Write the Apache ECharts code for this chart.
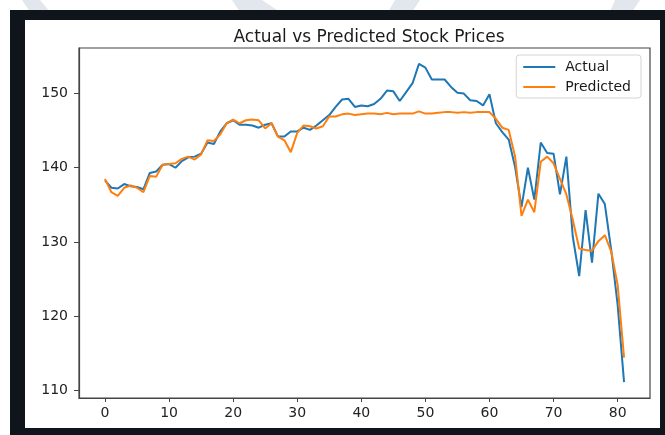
<!DOCTYPE html>
<html>
<head>
<meta charset="utf-8">
<script src="https://cdn.jsdelivr.net/npm/echarts@6/dist/echarts.min.js"></script>
<style>
html,body{margin:0;padding:0;background:#ffffff;}
#chart{width:665px;height:435px;}
</style>
</head>
<body>
<div id="chart"></div>
<script>
const titleText = 'Actual vs Predicted Stock Prices';
const seriesNames = ['Actual', 'Predicted'];
const xTicks = [0, 10, 20, 30, 40, 50, 60, 70, 80];
const yTicks = [110, 120, 130, 140, 150];
const actual = [
  138.3, 137.3, 137.2, 137.8, 137.5, 137.4, 137.1, 139.3, 139.5, 140.4,
  140.5, 140.0, 140.9, 141.4, 141.5, 141.9, 143.4, 143.2, 144.9, 146.0,
  146.4, 145.8, 145.8, 145.7, 145.4, 145.8, 146.0, 144.2, 144.2, 144.9,
  144.9, 145.4, 145.1, 145.7, 146.4, 147.1, 148.2, 149.2, 149.3, 148.2,
  148.4, 148.3, 148.6, 149.3, 150.4, 150.3, 149.0, 150.2, 151.4, 154.0,
  153.5, 151.9, 151.9, 151.9, 150.9, 150.1, 150.0, 149.1, 149.0, 148.4,
  149.9, 146.0, 144.8, 143.8, 140.1, 134.7, 140.0, 135.7, 143.4, 142.0,
  141.9, 136.4, 141.5, 130.7, 125.4, 134.3, 127.2, 136.5, 135.1, 128.9,
  121.5, 111.1
];
const predicted = [
  138.5, 136.7, 136.2, 137.3, 137.6, 137.3, 136.7, 138.9, 138.8, 140.4,
  140.5, 140.6, 141.2, 141.5, 141.1, 141.8, 143.7, 143.6, 144.5, 146.0,
  146.5, 146.0, 146.4, 146.5, 146.4, 145.3, 146.0, 144.2, 143.7, 142.1,
  144.7, 145.7, 145.6, 145.3, 145.6, 146.9, 146.9, 147.2, 147.3, 147.1,
  147.2, 147.3, 147.3, 147.2, 147.4, 147.2, 147.3, 147.3, 147.3, 147.6,
  147.3, 147.3, 147.4, 147.5, 147.5, 147.4, 147.5, 147.4, 147.5, 147.5,
  147.5, 146.6, 145.4, 145.1, 141.5, 133.5, 135.7, 134.0, 140.8, 141.5,
  140.6, 138.5, 136.4, 133.0, 129.1, 128.9, 128.8, 130.1, 130.9, 128.7,
  124.2, 114.4
];

const chart = echarts.init(document.getElementById('chart'), null, {renderer: 'canvas'});
const font = 'DejaVu Sans';
const n = actual.length;
const xMin = -(n - 1) * 0.05, xMax = (n - 1) * 1.05;
const allV = actual.concat(predicted);
const vMin = Math.min.apply(null, allV), vMax = Math.max.apply(null, allV);
const yPad = (vMax - vMin) * 0.05;

const wm = '#e1e7ec';
chart.setOption({
  animation: false,
  backgroundColor: '#ffffff',
  graphic: [
    {type: 'polygon', z: -10, shape: {points: [[22, 0], [40, 0], [50, 12], [30, 12]]}, style: {fill: wm}},
    {type: 'polygon', z: -10, shape: {points: [[232, 0], [262, 0], [280, 12], [240, 12]]}, style: {fill: wm}},
    {type: 'polygon', z: -10, shape: {points: [[395, 0], [420, 0], [412, 12], [388, 12]]}, style: {fill: wm}},
    {type: 'polygon', z: -10, shape: {points: [[615, 0], [640, 0], [632, 12], [610, 12]]}, style: {fill: wm}},
    {type: 'rect', z: -9, shape: {x: 10, y: 10, width: 655, height: 425}, style: {fill: '#10141b'}},
    {type: 'rect', z: -8, shape: {x: 25, y: 20, width: 635, height: 408}, style: {fill: '#ffffff'}}
  ],
  title: {
    text: titleText,
    left: 364,
    textAlign: 'center',
    top: 24,
    textStyle: {fontFamily: font, fontSize: 17, fontWeight: 'normal', color: '#1a1a1a'}
  },
  legend: {
    data: seriesNames,
    orient: 'vertical',
    right: 24,
    top: 55,
    padding: [5, 10, 4, 7],
    itemGap: 6,
    itemWidth: 32,
    itemHeight: 2,
    icon: 'rect',
    backgroundColor: '#ffffff',
    borderColor: '#d4d4d4',
    borderWidth: 1,
    borderRadius: 3,
    textStyle: {fontFamily: font, fontSize: 14, color: '#1a1a1a', padding: [0, 0, 0, 5]}
  },
  grid: {
    left: 79, right: 15, top: 48, bottom: 37,
    show: true, borderColor: '#444444', borderWidth: 1.2, backgroundColor: 'transparent'
  },
  xAxis: {
    type: 'value',
    min: xMin, max: xMax,
    splitLine: {show: false},
    axisLine: {show: true, onZero: false, lineStyle: {color: '#444444', width: 1.2}},
    axisTick: {show: true, length: 4, lineStyle: {color: '#444444'}, customValues: xTicks},
    axisLabel: {customValues: xTicks, margin: 8, fontFamily: font, fontSize: 14, color: '#222222'}
  },
  yAxis: {
    type: 'value',
    min: vMin - yPad, max: vMax + yPad,
    splitLine: {show: false},
    axisLine: {show: true, onZero: false, lineStyle: {color: '#444444', width: 1.2}},
    axisTick: {show: true, length: 5, lineStyle: {color: '#444444'}, customValues: yTicks},
    axisLabel: {customValues: yTicks, margin: 11, fontFamily: font, fontSize: 14, color: '#222222'}
  },
  series: [
    {
      name: seriesNames[0], type: 'line', showSymbol: false, symbol: 'none',
      data: actual.map((v, i) => [i, v]),
      lineStyle: {color: '#1f77b4', width: 2},
      itemStyle: {color: '#1f77b4'}
    },
    {
      name: seriesNames[1], type: 'line', showSymbol: false, symbol: 'none',
      data: predicted.map((v, i) => [i, v]),
      lineStyle: {color: '#ff7f0e', width: 2},
      itemStyle: {color: '#ff7f0e'}
    }
  ]
});
</script>
</body>
</html>
